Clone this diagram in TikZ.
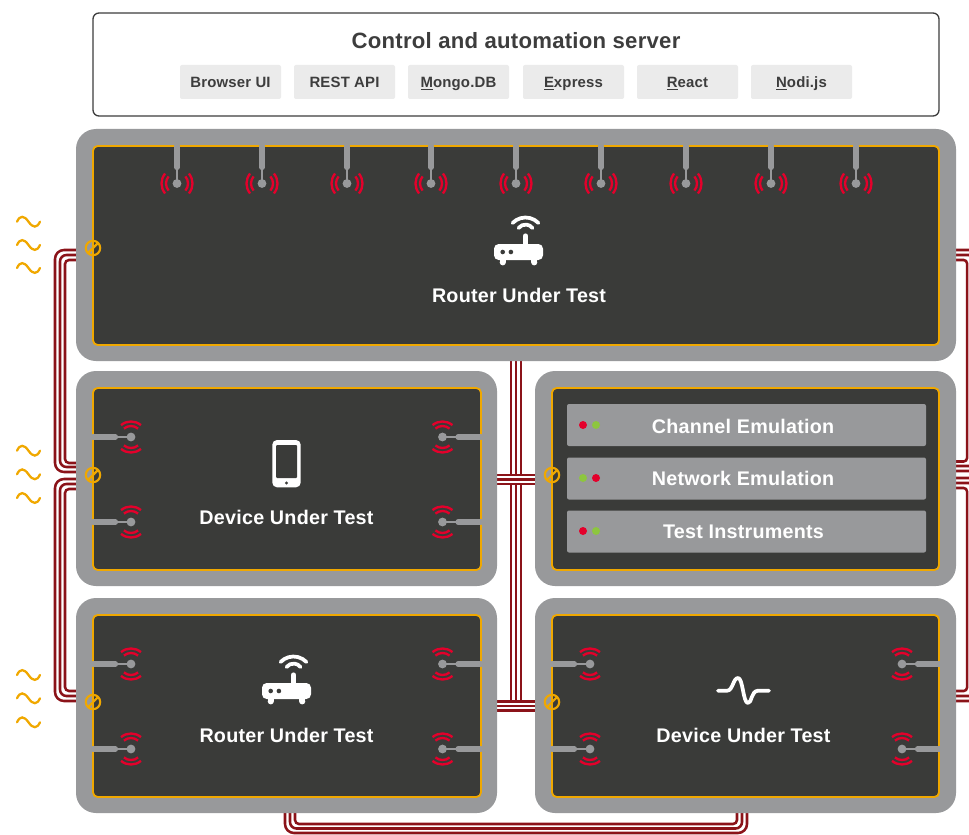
\documentclass[tikz,border=0pt]{standalone}
\usepackage{fontspec}
\setmainfont{Liberation Sans}
\newfontfamily\semi[LetterSpace=1.2]{Liberation Sans}
\usetikzlibrary{calc}
\pgfdeclarelayer{back}
\pgfsetlayers{back,main}
\definecolor{pgray}{HTML}{98999B}
\definecolor{pdark}{HTML}{3A3B39}
\definecolor{porange}{HTML}{F0A800}
\definecolor{pred}{HTML}{E4002B}
\definecolor{pgreen}{HTML}{8DC63F}
\definecolor{pcable}{HTML}{8B1319}
\definecolor{pbtn}{HTML}{EBEBEB}
\definecolor{ptext}{HTML}{3D3D3D}
\tikzset{
  sized/.style 2 args={minimum width=#1*0.75pt,minimum height=#2*0.75pt,inner sep=0pt,outer sep=0pt},
  outerpanel/.style={fill=pgray,rounded corners=15pt},
  innerpanel/.style={fill=pdark,draw=porange,line width=1.4pt,rounded corners=3.5pt},
  serverbox/.style={fill=white,draw=ptext,line width=1pt,rounded corners=4.5pt},
  btn/.style={fill=pbtn,rounded corners=1.5pt,text=ptext,text height=8pt,text depth=0pt,font=\semi\bfseries\fontsize{11.2}{13}\selectfont},
  bar/.style={fill=pgray,rounded corners=1.5pt},
  title/.style={text=ptext,text height=11.6pt,text depth=0pt,font=\semi\bfseries\fontsize{16.6}{19}\selectfont,inner sep=0pt},
  panellabel/.style={text=white,text height=10.4pt,text depth=0pt,font=\semi\bfseries\fontsize{14.8}{17}\selectfont,inner sep=0pt},
  cable/.style={draw=pcable,line width=1.9pt},
  redarc/.style={draw=pred,line width=1.75pt},
  portring/.style={draw=porange,line width=1.6pt},
  wavy/.style={draw=porange,line width=1.7pt,line cap=round},
  stem/.style={draw=pgray,line width=3.9pt,line cap=round},
  thin stem/.style={draw=pgray,line width=1.6pt},
  whiteicon/.style={draw=white,line cap=round,line join=round,line width=2.8pt}
}
\newcommand{\arcsH}{%
  \foreach \r in {11,15.5}{
    \draw[redarc] (0,0) ++(-40:\r) arc[start angle=-40,end angle=40,radius=\r];
    \draw[redarc] (0,0) ++(140:\r) arc[start angle=140,end angle=220,radius=\r];
  }}
\newcommand{\arcsV}{%
  \foreach \r in {11,15.5}{
    \draw[redarc] (0,0) ++(50:\r) arc[start angle=50,end angle=130,radius=\r];
    \draw[redarc] (0,0) ++(230:\r) arc[start angle=230,end angle=310,radius=\r];
  }}
\newcommand{\antTop}[1]{\begin{scope}[shift={(#1,183.5)}]
  \arcsH
  \draw[stem] (0,-37.5) -- (0,-16);
  \draw[thin stem] (0,-14) -- (0,0);
  \fill[pgray] (0,0) circle[radius=4.4];
\end{scope}}
\newcommand{\antLeft}[3]{\begin{scope}[shift={(#1,#2)}]
  \arcsV
  \draw[stem] (#3,0) -- (-15.5,0);
  \draw[thin stem] (-14,0) -- (0,0);
  \fill[pgray] (0,0) circle[radius=4.4];
\end{scope}}
\newcommand{\antRight}[3]{\begin{scope}[shift={(#1,#2)}]
  \arcsV
  \draw[stem] (#3,0) -- (15.5,0);
  \draw[thin stem] (14,0) -- (0,0);
  \fill[pgray] (0,0) circle[radius=4.4];
\end{scope}}
\newcommand{\ring}[2]{\begin{scope}[shift={(#1,#2)}]
  \draw[portring] (0,0) circle[radius=7.2];
  \draw[portring] (-5.1,5.1) -- (5.1,-5.1);
\end{scope}}
\newcommand{\wave}[1]{\begin{scope}[shift={(17,#1)}]
  \draw[wavy] (0,0) .. controls (3,-6.5) and (7,-6.5) .. (11.5,0) .. controls (16,6.5) and (20,6.5) .. (23,0);
\end{scope}}
\newcommand{\routericon}[2]{\begin{scope}[shift={(#1,#2)}]
  \fill[white,rounded corners=3.5pt] (-24.5,-8) rectangle (24.5,8);
  \fill[white] (-18.8,5) rectangle (-12.6,10.3);
  \fill[white] (12.6,5) rectangle (18.8,10.3);
  \fill[white] (-15.7,10.3) circle[radius=3.1];
  \fill[white] (15.7,10.3) circle[radius=3.1];
  \draw[whiteicon,line width=3.9pt] (7,-5) -- (7,-16);
  \draw[whiteicon] (7,-16.5) ++(224:18) arc[start angle=224,end angle=316,radius=18];
  \draw[whiteicon] (7,-18.7) ++(217:8.75) arc[start angle=217,end angle=323,radius=8.75];
  \fill[pdark] (-15.8,0) circle[radius=2.3];
  \fill[pdark] (-7.6,0) circle[radius=2.3];
\end{scope}}
\begin{document}
\begin{tikzpicture}[x=0.75pt,y=-0.75pt]
\useasboundingbox (0,0) rectangle (969,834);

% panels
\node[serverbox,sized={846}{103}] (server) at (516,64.5) {};
\node[outerpanel,sized={880}{232}] (topouter) at (516,245) {};
\node[innerpanel,sized={846}{199}] (topinner) at (516,245.5) {};
\node[outerpanel,sized={421}{215}] (dutouter) at (286.5,478.5) {};
\node[innerpanel,sized={388}{182}] (dutinner) at (287,479) {};
\node[outerpanel,sized={421}{215}] (emuouter) at (745.5,478.5) {};
\node[innerpanel,sized={387}{182}] (emuinner) at (745.5,479) {};
\node[outerpanel,sized={421}{215}] (rblouter) at (286.5,705.5) {};
\node[innerpanel,sized={388}{182}] (rblinner) at (287,706) {};
\node[outerpanel,sized={421}{215}] (dbrouter) at (745.5,705.5) {};
\node[innerpanel,sized={387}{182}] (dbrinner) at (745.5,706) {};

% server content
\node[title] (servertitle) at (516,40.5) {Control and automation server};
\node[btn,sized={101}{34}] (b1) at (230.5,82) {Browser UI};
\node[btn,sized={101}{34}] (b2) at (344.5,82) {REST API};
\node[btn,sized={101}{34}] (b3) at (458.5,82) {\underline{M}ongo.DB};
\node[btn,sized={101}{34}] (b4) at (573.5,82) {\underline{E}xpress};
\node[btn,sized={101}{34}] (b5) at (687.5,82) {\underline{R}eact};
\node[btn,sized={101}{34}] (b6) at (801.5,82) {\underline{N}odi.js};

% cables
\begin{pgfonlayer}{back}
\begin{scope}
\clip (0,0) rectangle (969,834);
% left: top router to device
\foreach \ya/\xa/\yb/\r in {250/55/472/9,255/60/467/6.5,260/65/463/4}
  \draw[cable,rounded corners=\r*0.75pt] (topouter.west |- 0,\ya) -- (\xa,\ya) -- (\xa,\yb) -- (dutouter.west |- 0,\yb);
% left: device to lower router
\foreach \ya/\xa/\yb/\r in {479/55/701/9,484/60/696/6.5,489/65/691/4}
  \draw[cable,rounded corners=\r*0.75pt] (dutouter.west |- 0,\ya) -- (\xa,\ya) -- (\xa,\yb) -- (rblouter.west |- 0,\yb);
% centre trunk
\foreach \xa in {511,516,521}
  \draw[cable] (topouter.south -| \xa,0) -- (\xa,702);
\fill[white] (dutouter.east |- 0,474) rectangle (emuouter.west |- 0,485);
\fill[white] (dutouter.east |- 0,702) rectangle (emuouter.west |- 0,712);
\foreach \ya in {475,479.5,484}
  \draw[cable] (dutouter.east |- 0,\ya) -- (emuouter.west |- 0,\ya);
\foreach \ya in {701.5,706,710.7}
  \draw[cable] (rblouter.east |- 0,\ya) -- (dbrouter.west |- 0,\ya);
% right side
\foreach \ya/\xa/\yb in {250/977/471,255/972/466,260/967/461.5}
  \draw[cable,rounded corners=2.5pt] (topouter.east |- 0,\ya) -- (\xa,\ya) -- (\xa,\yb) -- (emuouter.east |- 0,\yb);
\foreach \ya/\xa/\yb in {478/977/701,483/972/696,488/967/691}
  \draw[cable,rounded corners=2.5pt] (emuouter.east |- 0,\ya) -- (\xa,\ya) -- (\xa,\yb) -- (dbrouter.east |- 0,\yb);
% bottom
\foreach \xa/\xb/\yb/\r in {285/747/833/9,290/742/828.5/6.5,295/737/824/4}
  \draw[cable,rounded corners=\r*0.75pt] (rblouter.south -| \xa,0) -- (\xa,\yb) -- (\xb,\yb) -- (dbrouter.south -| \xb,0);
\end{scope}
\end{pgfonlayer}

% top panel contents
\foreach \x in {177,262,347,431,516,601,686,771,856} { \antTop{\x} }
\routericon{518.5}{252}
\node[panellabel] (toplabel) at (519,296) {Router Under Test};

% device panel
\antLeft{131}{437}{-38}\antLeft{131}{522}{-38}
\antRight{442.5}{437}{38.5}\antRight{442.5}{522}{38.5}
\fill[white,rounded corners=3.5pt] (272.3,440) rectangle (300.7,487.3);
\fill[pdark,rounded corners=0.8pt] (276,445) rectangle (297.2,478);
\fill[pdark] (286.5,483) circle[radius=1.7];
\node[panellabel] (dutlabel) at (286.5,518) {Device Under Test};

% emulation panel
\node[bar,sized={359}{42}] (bar1) at (746.5,425) {};
\node[bar,sized={359}{42}] (bar2) at (746.5,478.5) {};
\node[bar,sized={359}{42}] (bar3) at (746.5,531.5) {};
\node[panellabel] (emu1) at (743,426.5) {Channel Emulation};
\node[panellabel] (emu2) at (743,478.5) {Network Emulation};
\node[panellabel] (emu3) at (743.5,532) {Test Instruments};
\fill[pred] (583,425) circle[radius=4];
\fill[pgreen] (596,425) circle[radius=4];
\fill[pgreen] (583,478) circle[radius=4];
\fill[pred] (596,478) circle[radius=4];
\fill[pred] (583,531) circle[radius=4];
\fill[pgreen] (596,531) circle[radius=4];

% lower router panel
\antLeft{131}{664}{-38}\antLeft{131}{749}{-38}
\antRight{442.5}{664}{38.5}\antRight{442.5}{749}{38.5}
\routericon{286.5}{691}
\node[panellabel] (rbllabel) at (286.5,735.5) {Router Under Test};

% lower device panel
\antLeft{590}{664}{-38}\antLeft{590}{749}{-38}
\antRight{902}{664}{37.5}\antRight{902}{749}{37.5}
\draw[whiteicon] (718,690.7) -- (727,690.7) .. controls (733,690.7) and (733,678) .. (738,678) .. controls (743,678) and (743,703) .. (748,703) .. controls (752,703) and (751,691) .. (758,690.7) -- (769,690.7);
\node[panellabel] (dbrlabel) at (743.5,735.5) {Device Under Test};

% port rings
\ring{93}{248}\ring{93}{475}\ring{552}{475}\ring{93}{702}\ring{552}{702}

% waves
\foreach \y in {221.7,245,268,450.7,474.3,498,675,698.3,722.3} { \wave{\y} }
\end{tikzpicture}
\end{document}
